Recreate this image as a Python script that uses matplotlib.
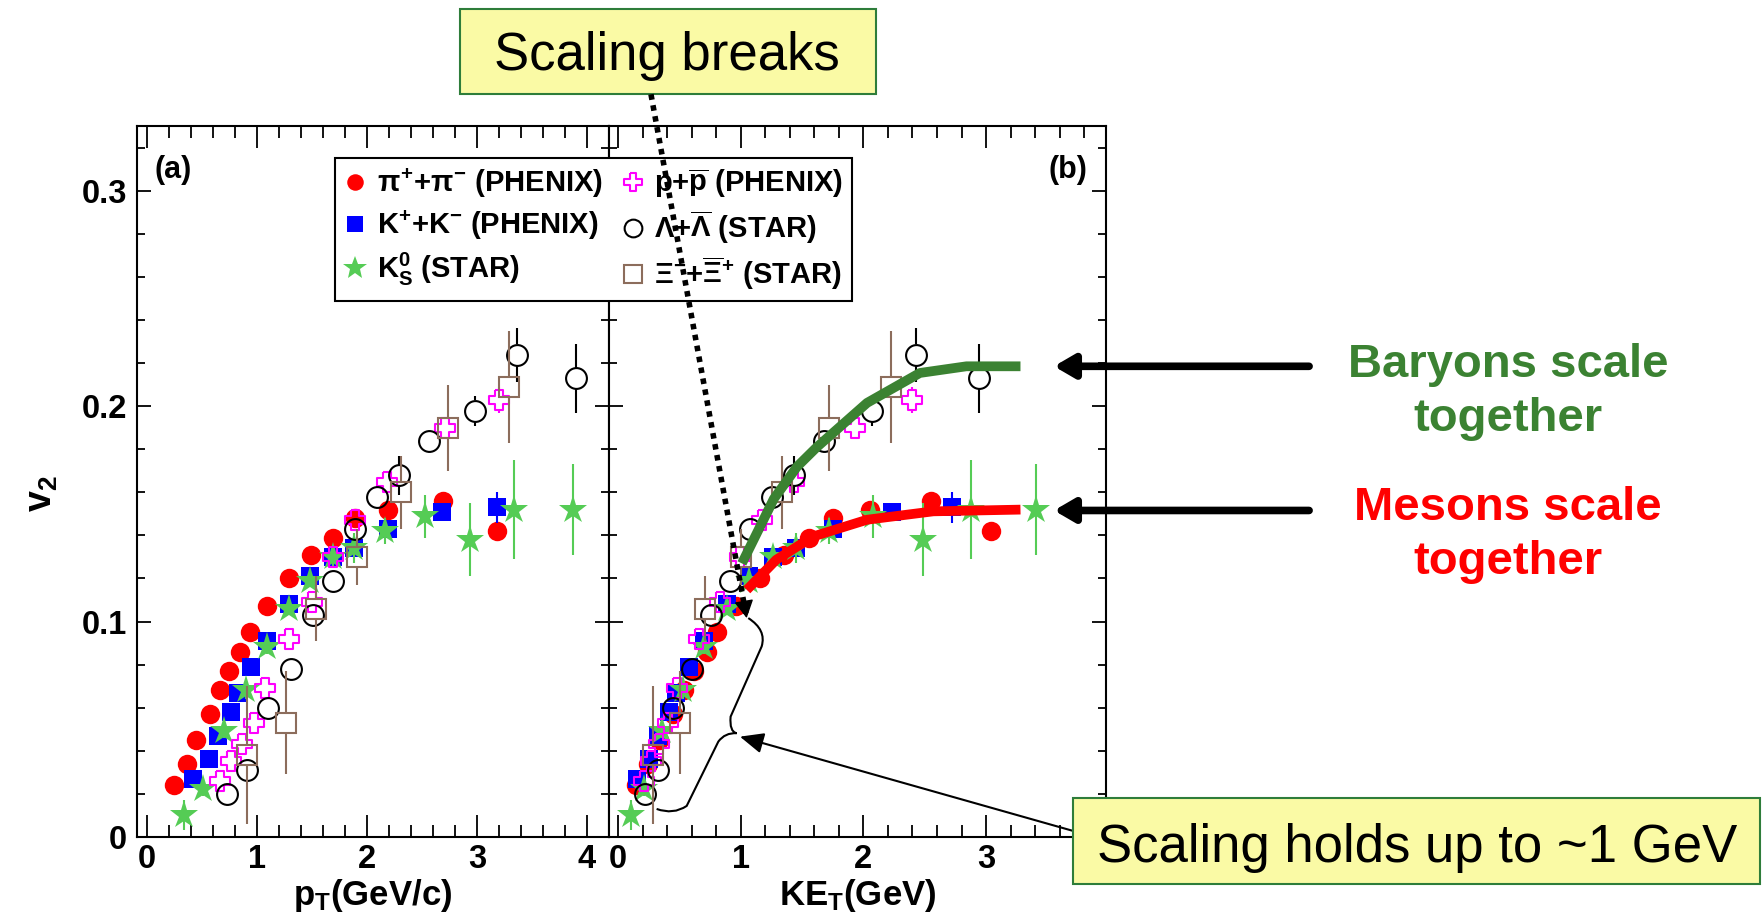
import numpy as np
import matplotlib
matplotlib.use("Agg")
import matplotlib.pyplot as plt
from matplotlib.lines import Line2D
from matplotlib.patches import PathPatch, Rectangle
from matplotlib.path import Path
from matplotlib.ticker import MultipleLocator, FuncFormatter

plt.rcParams["font.family"] = ["Liberation Sans", "DejaVu Sans"]
plt.rcParams["font.weight"] = "bold"
plt.rcParams["axes.labelweight"] = "bold"
plt.rcParams["mathtext.fontset"] = "custom"
plt.rcParams["mathtext.rm"] = "Liberation Sans:bold"
plt.rcParams["mathtext.it"] = "Liberation Sans:bold"
plt.rcParams["mathtext.bf"] = "Liberation Sans:bold"

W, H = 1762, 917

# hadron masses (GeV), used for KE_T = sqrt(pT^2 + m^2) - m
m_pi, m_k, m_k0, m_p, m_lam, m_xi = 0.1396, 0.4937, 0.4976, 0.9383, 1.1157, 1.3217

# pi+ + pi- (PHENIX)
pi_pt = [0.25, 0.36, 0.45, 0.57, 0.66, 0.75, 0.85, 0.94, 1.09, 1.29, 1.49, 1.69, 1.89, 2.19, 2.69, 3.18]
pi_v2 = [0.024, 0.034, 0.045, 0.057, 0.068, 0.077, 0.086, 0.095, 0.107, 0.120, 0.131, 0.139, 0.148, 0.152, 0.156, 0.142]
pi_err = [0.001] * 12 + [0.002, 0.002, 0.003, 0.004]

# K+ + K- (PHENIX)
k_pt = [0.42, 0.56, 0.65, 0.76, 0.83, 0.95, 1.09, 1.29, 1.48, 1.69, 1.88, 2.19, 2.68, 3.18]
k_v2 = [0.027, 0.036, 0.047, 0.058, 0.067, 0.079, 0.091, 0.108, 0.121, 0.130, 0.134, 0.143, 0.151, 0.153]
k_err = [0.001] * 10 + [0.002, 0.003, 0.004, 0.007]

# K0s (STAR)
k0_pt = [0.34, 0.51, 0.70, 0.90, 1.09, 1.29, 1.48, 1.69, 1.88, 2.16, 2.53, 2.94, 3.34, 3.87]
k0_v2 = [0.010, 0.022, 0.049, 0.068, 0.088, 0.106, 0.119, 0.130, 0.134, 0.142, 0.149, 0.138, 0.152, 0.152]
k0_err = [0.007, 0.003, 0.003, 0.004, 0.003, 0.003, 0.003, 0.004, 0.007, 0.006, 0.010, 0.017, 0.023, 0.021]

# p + pbar (PHENIX)
p_pt = [0.66, 0.76, 0.86, 0.97, 1.07, 1.29, 1.50, 1.69, 1.89, 2.18, 2.71, 3.20]
p_v2 = [0.026, 0.035, 0.043, 0.053, 0.069, 0.092, 0.109, 0.130, 0.147, 0.165, 0.190, 0.203]
p_err = [0.002] * 9 + [0.003, 0.004, 0.006]

# Lambda + Lambdabar (STAR)
lam_pt = [0.73, 0.91, 1.10, 1.31, 1.51, 1.69, 1.89, 2.09, 2.29, 2.56, 2.98, 3.36, 3.90]
lam_v2 = [0.020, 0.031, 0.060, 0.078, 0.103, 0.119, 0.143, 0.158, 0.168, 0.184, 0.198, 0.224, 0.213]
lam_err = [0.002, 0.003, 0.003, 0.003, 0.003, 0.003, 0.004, 0.005, 0.009, 0.005, 0.007, 0.0125, 0.016]

# Xi- + Xibar+ (STAR)
xi_pt = [0.91, 1.26, 1.54, 1.91, 2.31, 2.74, 3.29]
xi_v2 = [0.038, 0.053, 0.106, 0.130, 0.160, 0.190, 0.209]
xi_err = [0.032, 0.024, 0.015, 0.013, 0.017, 0.020, 0.026]

# hand drawn guide curves in panel (b)
baryon_ke = [1.01, 1.27, 1.46, 1.62, 2.03, 2.46, 2.84, 3.28]
baryon_v2 = [0.127, 0.157, 0.172, 0.181, 0.2016, 0.2155, 0.2186, 0.2186]
meson_ke = [1.05, 1.29, 1.59, 2.03, 2.57, 3.28]
meson_v2 = [0.1147, 0.1287, 0.1395, 0.1473, 0.1512, 0.152]

GREEN = "#3b8232"
cross = [(-0.38, 1), (0.38, 1), (0.38, 0.38), (1, 0.38), (1, -0.38), (0.38, -0.38),
         (0.38, -1), (-0.38, -1), (-0.38, -0.38), (-1, -0.38), (-1, 0.38), (-0.38, 0.38), (-0.38, 1)]

series = [
    (r"$\pi^{+}$+$\pi^{-}$ (PHENIX)", pi_pt, pi_v2, pi_err, m_pi,
     dict(marker="o", color="#ff0000", mfc="#ff0000", mew=0, ms=14)),
    (r"$\mathrm{K}^{+}$+$\mathrm{K}^{-}$ (PHENIX)", k_pt, k_v2, k_err, m_k,
     dict(marker="s", color="#0000ff", mfc="#0000ff", mew=0, ms=13.5)),
    (r"$\mathrm{K}^{0}_{S}$ (STAR)", k0_pt, k0_v2, k0_err, m_k0,
     dict(marker="*", color="#55cc55", mfc="#55cc55", mew=0, ms=21)),
    (r"p+$\overline{\mathrm{p}}$ (PHENIX)", p_pt, p_v2, p_err, m_p,
     dict(marker=cross, color="#ff00ff", mfc="none", mew=1.5, ms=15)),
    (r"$\Lambda$+$\overline{\Lambda}$ (STAR)", lam_pt, lam_v2, lam_err, m_lam,
     dict(marker="o", color="black", mfc="none", mew=1.5, ms=15)),
    (r"$\Xi^{-}$+$\overline{\Xi}^{+}$ (STAR)", xi_pt, xi_v2, xi_err, m_xi,
     dict(marker="s", color="#8c6d5c", mfc="none", mew=1.5, ms=15)),
]

fig = plt.figure(figsize=(W / 100, H / 100), dpi=100)
ax1 = fig.add_axes([137 / W, 1 - 836.7 / H, 472 / W, 711.2 / H])
ax2 = fig.add_axes([609 / W, 1 - 836.7 / H, 497 / W, 711.2 / H])

handles, labels = [], []
for i, (label, pt, v2, err, m, st) in enumerate(series):
    pt = np.asarray(pt)
    v2 = np.asarray(v2)
    err = np.asarray(err)
    ke = np.sqrt(pt ** 2 + m ** 2) - m
    for ax, x in ((ax1, pt), (ax2, ke)):
        if st["mfc"] == "none":
            # open markers: error bar stops at the marker edge
            r = st["ms"] / 2 * 100 / 72 / 2150
            ok = err > r
            ax.vlines(x[ok], v2[ok] + r, v2[ok] + err[ok], color=st["color"], lw=1.5, zorder=2 + i * 0.1)
            ax.vlines(x[ok], v2[ok] - err[ok], v2[ok] - r, color=st["color"], lw=1.5, zorder=2 + i * 0.1)
        else:
            ax.vlines(x, v2 - err, v2 + err, color=st["color"], lw=1.5, zorder=2 + i * 0.1)
        ax.plot(x, v2, ls="none", marker=st["marker"], ms=st["ms"], mfc=st["mfc"],
                mec=st["color"], mew=st["mew"], zorder=2.05 + i * 0.1)
    handles.append(Line2D([], [], ls="none", marker=st["marker"], ms=st["ms"] * 0.85,
                          mfc=st["mfc"], mec=st["color"], mew=st["mew"]))
    labels.append(label)

for ax, xlim in ((ax1, (-0.09, 4.2)), (ax2, (-0.073, 3.977))):
    ax.set_xlim(*xlim)
    ax.set_ylim(0, 0.3305)
    ax.xaxis.set_major_locator(MultipleLocator(1))
    ax.xaxis.set_minor_locator(MultipleLocator(0.2))
    ax.yaxis.set_major_locator(MultipleLocator(0.1))
    ax.yaxis.set_minor_locator(MultipleLocator(0.02))
    ax.yaxis.set_major_formatter(FuncFormatter(lambda v, _: "0" if abs(v) < 1e-9 else f"{v:g}"))
    ax.tick_params(which="both", direction="in", top=True, right=True, width=1.3, labelsize=23.5)
    ax.tick_params(axis="x", which="major", length=16, pad=5)
    ax.tick_params(axis="x", which="minor", length=8.5)
    ax.tick_params(axis="y", which="major", length=10, pad=7)
    ax.tick_params(axis="y", which="minor", length=6)
    for s in ax.spines.values():
        s.set_linewidth(1.5)

ax2.tick_params(labelleft=False)

ax1.set_xlabel(r"$\mathrm{p}_{T}$(GeV/c)", fontsize=25, va="center")
ax1.xaxis.set_label_coords(0.5, -0.082)
ax2.set_xlabel(r"$\mathrm{KE}_{T}$(GeV)", fontsize=25, va="center")
ax2.xaxis.set_label_coords(0.5, -0.082)
ax1.set_ylabel(r"$\mathrm{v}_{2}$", fontsize=27, va="center")
ax1.yaxis.set_label_coords(-0.201, 0.482)

ax1.text(0.0756, 0.937, "(a)", transform=ax1.transAxes, fontsize=22, ha="center", va="center")
ax2.text(0.924, 0.937, "(b)", transform=ax2.transAxes, fontsize=22, ha="center", va="center")

leg = fig.legend(handles, labels, ncol=2, loc="upper left", bbox_to_anchor=(335 / W, 1 - 158 / H),
                 bbox_transform=fig.transFigure, fancybox=False, edgecolor="black", framealpha=1,
                 fontsize=21, handlelength=0.8, handletextpad=0.35, columnspacing=0.6,
                 borderpad=0.3, labelspacing=0.3, borderaxespad=0)
leg.get_frame().set_linewidth(1.5)

# guide curves
ax2.plot(baryon_ke, baryon_v2, color=GREEN, lw=7, solid_capstyle="butt", zorder=6, clip_on=False)
ax2.plot(meson_ke, meson_v2, color="#ff0000", lw=7, solid_capstyle="butt", zorder=6, clip_on=False)

# thick arrows pointing at the plateaus
for yv in (0.2186, 0.1516):
    ax2.annotate("", xy=(3.553, yv), xytext=(5.632, yv), annotation_clip=False,
                 arrowprops=dict(arrowstyle="-|>,head_length=0.6,head_width=0.35", lw=5.5,
                                 color="black", mutation_scale=20, shrinkA=0, shrinkB=0))

# curly brace
verts = [(0.315, 0.0129), (0.451, 0.0101), (0.560, 0.0143), (0.818, 0.0442),
         (0.872, 0.0484), (0.967, 0.0481), (0.907, 0.0488), (0.918, 0.0558),
         (1.171, 0.0884), (1.212, 0.0961), (1.062, 0.1016)]
codes = [Path.MOVETO, Path.CURVE3, Path.CURVE3, Path.LINETO, Path.CURVE3, Path.CURVE3,
         Path.CURVE3, Path.CURVE3, Path.LINETO, Path.CURVE3, Path.CURVE3]
ax2.add_patch(PathPatch(Path(verts, codes), fill=False, lw=1.5, color="black", clip_on=False, zorder=8))

# thin arrow from lower box
ax2.annotate("", xy=(0.994, 0.0465), xytext=(3.708, 0.0027), annotation_clip=False,
             arrowprops=dict(arrowstyle="-|>,head_length=0.8,head_width=0.35", lw=1.5,
                             color="black", mutation_scale=18, shrinkA=0, shrinkB=0))

# dotted arrow from upper box
fig.add_artist(Line2D([0.269, 1.049], [0.345, 0.1016], transform=ax2.transData, ls=(0, (1, 1)),
                      lw=4, color="black", zorder=12, dash_capstyle="butt"))
ax2.annotate("", xy=(1.049, 0.1016), xytext=(1.027, 0.109), annotation_clip=False,
             arrowprops=dict(arrowstyle="-|>,head_length=0.55,head_width=0.3", lw=1,
                             color="black", mutation_scale=20, shrinkA=0, shrinkB=0), zorder=9)

# callout boxes
fig.add_artist(Rectangle((460 / W, 1 - 94 / H), 416 / W, 85 / H, transform=fig.transFigure,
                         fc="#fafaa5", ec="#2e7d3a", lw=1.5, zorder=10))
fig.text(667 / W, 1 - 70 / H, "Scaling breaks", ha="center", va="baseline", fontsize=38,
         fontweight="normal", zorder=11)
fig.add_artist(Rectangle((1073 / W, 1 - 884 / H), 687 / W, 86 / H, transform=fig.transFigure,
                         fc="#fafaa5", ec="#2e7d3a", lw=1.5, zorder=10))
fig.text(1417 / W, 1 - 862 / H, "Scaling holds up to ~1 GeV", ha="center", va="baseline",
         fontsize=38, fontweight="normal", zorder=11)

fig.text(1508 / W, 1 - 392 / H, "Baryons scale\ntogether", ha="center", va="center",
         fontsize=34, color=GREEN, linespacing=1.27)
fig.text(1508 / W, 1 - 535 / H, "Mesons scale\ntogether", ha="center", va="center",
         fontsize=34, color="#ff0000", linespacing=1.27)

fig.savefig("out.png", dpi=100)
